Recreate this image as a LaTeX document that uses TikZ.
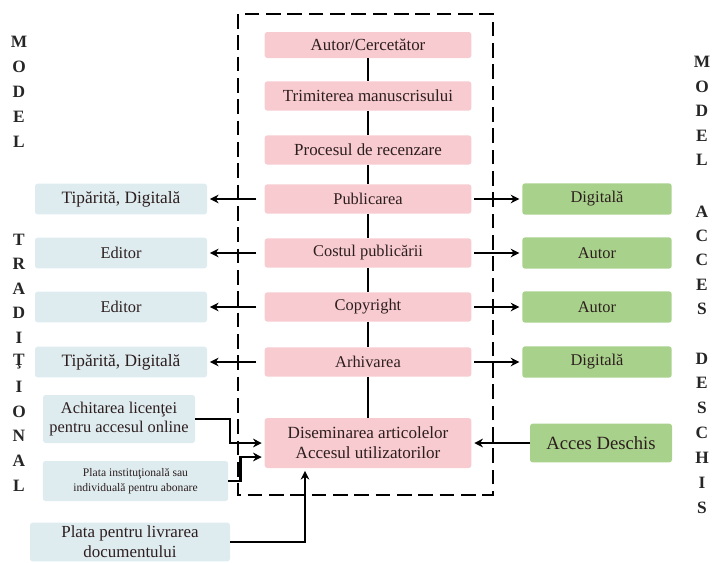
\documentclass[tikz,border=0pt]{standalone}
\usepackage{fontspec}
\setmainfont{Liberation Serif}
\usetikzlibrary{arrows.meta,calc}
\definecolor{pinkbox}{RGB}{247,203,208}
\definecolor{bluebox}{RGB}{222,236,240}
\definecolor{greenbox}{RGB}{168,210,140}
\definecolor{txt}{RGB}{45,30,30}
\begin{document}
\begin{tikzpicture}[x=0.75pt,y=-0.75pt,
  box/.style={rounded corners=2pt,inner sep=1pt,align=center,text=txt,font=\fontsize{12.3}{14}\selectfont},
  pinkb/.style={box,fill=pinkbox,minimum width=155pt,minimum height=22pt},
  blueb/.style={box,fill=bluebox,minimum width=129pt,minimum height=23pt},
  greenb/.style={box,fill=greenbox,minimum width=112pt,minimum height=23.5pt},
  spine/.style={line width=1.6pt},
  arr/.style={line width=1.6pt,-{Stealth[length=6.5pt,width=6.5pt]},shorten >=2pt},
  dbox/.style={line width=2.2pt,dash pattern=on 11pt off 5pt},
  letter/.style={font=\fontsize{13}{13}\selectfont\bfseries,text=black!85,inner sep=0pt}
]
\useasboundingbox (0,0) rectangle (714,562);
% dashed frame
\draw[dbox] (238,14) rectangle (493,495);
% central column
\node[pinkb,minimum height=19.5pt,font=\fontsize{12.7}{14}\selectfont] (aut) at (368,45) {Autor/Cercetător};
\node[pinkb,font=\fontsize{12.7}{14}\selectfont] (trim) at (368,96) {Trimiterea manuscrisului};
\node[pinkb,font=\fontsize{12.7}{14}\selectfont] (proc) at (368,150) {Procesul de recenzare};
\node[pinkb] (pub) at (368,199) {Publicarea};
\node[pinkb] (cost) at (368,253) {Costul publicării};
\node[pinkb] (copy) at (368,307) {Copyright};
\node[pinkb] (arh) at (368,362) {Arhivarea};
\node[pinkb,minimum height=37.5pt,font=\fontsize{12.8}{15}\selectfont] (dis) at (368,443) {Diseminarea articolelor\\Accesul utilizatorilor};
\draw[spine] (aut.south) -- (trim.north);
\draw[spine] (trim.south) -- (proc.north);
\draw[spine] (proc.south) -- (pub.north);
\draw[spine] (pub.south) -- (cost.north);
\draw[spine] (cost.south) -- (copy.north);
\draw[spine] (copy.south) -- (arh.north);
\draw[spine] (arh.south) -- (dis.north);
% left traditional boxes
\node[blueb,font=\fontsize{13}{14}\selectfont] (lt1) at (121,199) {Tipărită, Digitală};
\node[blueb] (lt2) at (121,253) {Editor};
\node[blueb] (lt3) at (121,307) {Editor};
\node[blueb,font=\fontsize{13}{14}\selectfont] (lt4) at (121,362) {Tipărită, Digitală};
\foreach \s/\t in {pub/lt1,cost/lt2,copy/lt3,arh/lt4}
  \draw[arr,shorten <=6pt] (\s.west) -- (\t.east);
% right open access boxes
\node[greenb] (rg1) at (597,199) {Digitală};
\node[greenb] (rg2) at (597,253) {Autor};
\node[greenb] (rg3) at (597,307) {Autor};
\node[greenb] (rg4) at (597,362) {Digitală};
\foreach \s/\t in {pub/rg1,cost/rg2,copy/rg3,arh/rg4}
  \draw[arr,shorten <=2pt] (\s.east) -- (\t.west);
% lower left payment boxes
\node[box,fill=bluebox,minimum width=114pt,minimum height=36pt,font=\fontsize{12.3}{14.5}\selectfont] (ach) at (119,419) {Achitarea licenţei\\pentru accesul online};
\node[box,fill=bluebox,minimum width=139pt,minimum height=30pt,font=\fontsize{8.7}{11}\selectfont] (pin) at (135.5,481) {Plata instituţională sau\\individuală pentru abonare};
\node[box,fill=bluebox,minimum width=150pt,minimum height=29pt,font=\fontsize{12.7}{15}\selectfont] (pliv) at (130,542) {Plata pentru livrarea\\documentului};
\draw[arr] (ach.east) -- ++(35,0) |- (dis.west);
\draw[arr] (pin.east) -- ++(12,0) |- ($(dis.west)+(0,14)$);
\draw[arr] (pliv.east) -| ($(dis.south)+(-63,0)$);
% open access box
\node[box,fill=greenbox,minimum width=106.5pt,minimum height=29pt,font=\fontsize{14}{16}\selectfont] (acc) at (601,443) {Acces Deschis};
\draw[arr] (acc.west) -- (dis.east);
% vertical letters
\foreach \l/\y [count=\i] in {M/42,O/67,D/92,E/117,L/142,T/240,R/264,A/289,D/313,I/338,Ţ/362,I/387,O/412,N/436,A/461,L/486}
  \node[letter] (lm\i) at (19,\y) {\l};
\foreach \l/\y [count=\i] in {M/62,O/87,D/111,E/136,L/160,A/212,C/236,C/260,E/285,S/309,D/359,E/383,S/408,C/433,H/458,I/483,S/508}
  \node[letter] (rm\i) at (702,\y) {\l};
\end{tikzpicture}
\end{document}
